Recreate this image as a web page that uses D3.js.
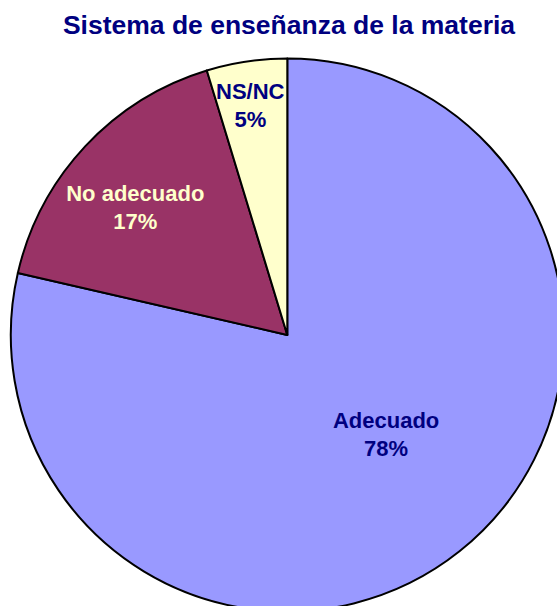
<!DOCTYPE html>
<html>
<head>
<meta charset="utf-8">
<script src="https://cdn.jsdelivr.net/npm/d3@7"></script>
<style>
	html, body { margin: 0; padding: 0; background: #fff; }
	.pie-chart { width: 557px; height: 606px; }
	text { font-family: Arial, "Liberation Sans", sans-serif; font-weight: bold; }
</style>
</head>
<body>
<div class="pie-chart"></div>
<script>
// chart data
var title = 'Sistema de enseñanza de la materia';
var categories = ['Adecuado', 'No adecuado', 'NS/NC'];
var values = [78.6, 16.7, 4.7];
var pctLabels = ['78%', '17%', '5%'];
var colors = ['#9999ff', '#993366', '#ffffcc'];
var labelColors = ['#000080', '#ffffcc', '#000080'];

initPieChart();

// pie chart init
function initPieChart() {
	var width = 557;
	var height = 606;
	var center = { x: 287.3, y: 335 };
	var radius = 276.5;
	// label placement inside slices (radius fraction, angle shift in degrees)
	var labelRadius = [0.506, 0.719, 0.841];
	var labelShift = [-6.4, -2.9, -0.7];
	var lineHeight = 28;

	var svg = d3.select('.pie-chart')
		.append('svg')
		.attr('width', width)
		.attr('height', height);

	svg.append('text')
		.attr('x', 289)
		.attr('y', 34)
		.attr('text-anchor', 'middle')
		.style('font-size', '26.5px')
		.style('fill', '#000080')
		.text(title);

	var data = categories.map(function(c, i) {
		return { name: c, value: values[i], pct: pctLabels[i], idx: i };
	});

	var pie = d3.pie()
		.sort(null)
		.value(function(d) {
			return d.value;
		});

	var arc = d3.arc()
		.innerRadius(0)
		.outerRadius(radius);

	var wrapper = svg.append('g')
		.attr('transform', 'translate(' + center.x + ',' + center.y + ')');

	var slices = pie(data);

	wrapper.selectAll('.slice')
		.data(slices)
		.enter()
		.append('path')
		.attr('class', 'slice')
		.attr('d', arc)
		.style('fill', function(d) {
			return colors[d.data.idx];
		})
		.style('stroke', '#000')
		.style('stroke-width', 2)
		.style('stroke-linejoin', 'round');

	var label = wrapper.selectAll('.label')
		.data(slices)
		.enter()
		.append('text')
		.attr('class', 'label')
		.attr('text-anchor', 'middle')
		.style('font-size', '22px')
		.style('fill', function(d) {
			return labelColors[d.data.idx];
		})
		.attr('transform', function(d) {
			var i = d.data.idx;
			var r = radius * labelRadius[i];
			var a = (d.startAngle + d.endAngle) / 2 + labelShift[i] * Math.PI / 180;
			return 'translate(' + (r * Math.sin(a)) + ',' + (-r * Math.cos(a)) + ')';
		});

	label.append('tspan')
		.attr('x', 0)
		.attr('dy', -lineHeight / 2 + 8)
		.text(function(d) {
			return d.data.name;
		});

	label.append('tspan')
		.attr('x', 0)
		.attr('dy', lineHeight)
		.text(function(d) {
			return d.data.pct;
		});
}
</script>
</body>
</html>
